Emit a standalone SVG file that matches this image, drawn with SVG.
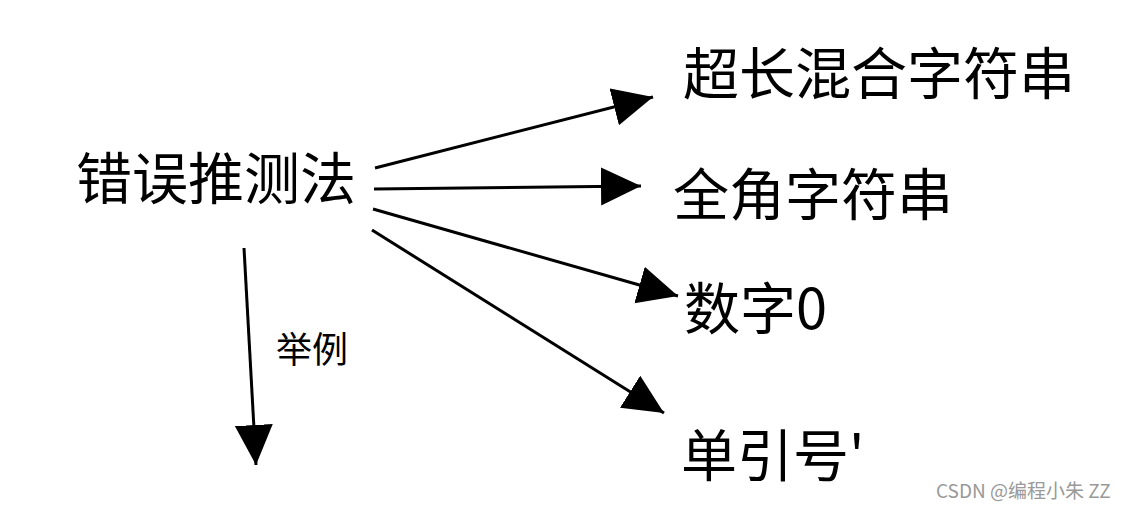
<svg xmlns="http://www.w3.org/2000/svg" width="1131" height="509" viewBox="0 0 1131 509">
<style>
.t{font-family:"Noto Sans CJK SC","Noto Sans",sans-serif;fill:#000}
.c{stroke:#000;stroke-width:3;fill:none;marker-end:url(#ah)}
</style>
<defs>
<marker id="ah" markerUnits="userSpaceOnUse" markerWidth="42" markerHeight="40" refX="40" refY="19" orient="auto" viewBox="0 0 42 40">
<path d="M0,0 L40,19 L0,38 Z" fill="#000"/>
</marker>
</defs>
<rect width="1131" height="509" fill="#fff"/>
<g id="connectors">
<line class="c" x1="375" y1="168" x2="653" y2="97"/>
<line class="c" x1="374" y1="189" x2="641" y2="186"/>
<line class="c" x1="373" y1="209" x2="678" y2="296"/>
<line class="c" x1="372" y1="230" x2="664" y2="413"/>
<line class="c" x1="244" y1="248" x2="256" y2="465"/>
</g>
<g id="n-main"><text class="t" x="76" y="199" font-size="56">错误推测法</text></g>
<g id="n-long"><text class="t" x="683" y="94" font-size="56">超长混合字符串</text></g>
<g id="n-full"><text class="t" x="673" y="215" font-size="56">全角字符串</text></g>
<g id="n-zero"><text class="t" x="684" y="329" font-size="56">数字0</text></g>
<g id="n-quote"><text class="t" x="681" y="476" font-size="56">单引号'</text></g>
<g id="label"><text class="t" x="276" y="363" font-size="36">举例</text></g>
<text x="936" y="498" font-size="19" font-family="'Noto Sans CJK SC','Noto Sans',sans-serif" fill="#999">CSDN @编程小朱 ZZ</text>
</svg>
